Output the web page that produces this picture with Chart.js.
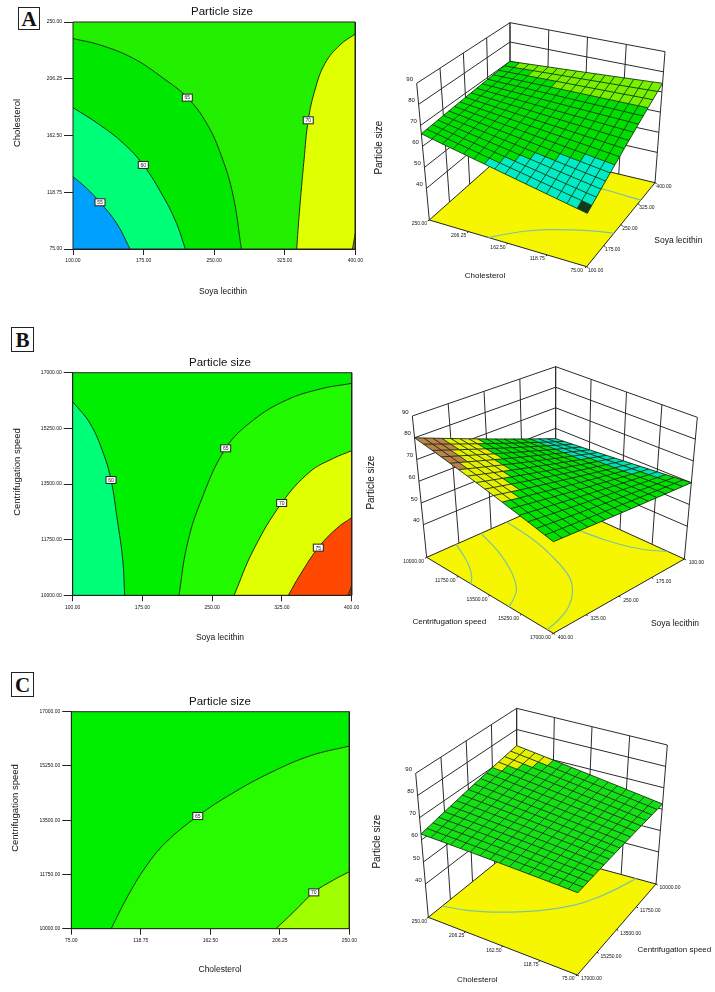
<!DOCTYPE html>
<html>
<head>
<meta charset="utf-8">
<title>Particle size</title>
<script src="https://cdn.jsdelivr.net/npm/chart.js@4"></script>
<style>
html, body { margin: 0; padding: 0; background: #fff; }
#page { position: relative; width: 715px; height: 992px; overflow: hidden; }
canvas { position: absolute; }
.letter { position: absolute; box-sizing: border-box; border: 1px solid #222; background: #fff; color: #111;
    font: bold 21px "Liberation Serif", serif; text-align: center; }
</style>
</head>
<body>
<div id="page">
    <div class="letter" style="left:18px;top:7px;width:22px;height:23px;line-height:22px">A</div>
    <div class="letter" style="left:11px;top:327px;width:23px;height:25px;line-height:24px">B</div>
    <div class="letter" style="left:11px;top:672px;width:23px;height:25px;line-height:24px">C</div>
    <canvas id="contourA" width="370" height="320" style="left:0;top:0"></canvas>
    <canvas id="contourB" width="370" height="330" style="left:0;top:320px"></canvas>
    <canvas id="contourC" width="360" height="332" style="left:0;top:660px"></canvas>
    <canvas id="surfaceA" width="345" height="310" style="left:370px;top:0"></canvas>
    <canvas id="surfaceB" width="355" height="310" style="left:360px;top:340px"></canvas>
    <canvas id="surfaceC" width="355" height="312" style="left:360px;top:680px"></canvas>
</div>
<script>
// tick values
const soyaTicks = [100, 175, 250, 325, 400]
const cholesterolTicks = [75, 118.75, 162.5, 206.25, 250]
const speedTicks = [10000, 11750, 13500, 15250, 17000]
const particleTicks = [40, 50, 60, 70, 80, 90]

// contour lines, [x, y] in axis units
// A: x = soya lecithin, y = cholesterol
const a55 = [[100, 130.8], [114.5, 121.8], [128.7, 111], [146.4, 94.8], [160.6, 75]]
const a60 = [[100, 184], [128.7, 170.6], [153.5, 156.5], [174.7, 139.8], [196, 115.3], [210, 94.8], [219.4, 75]]
const a65 = [[100, 237.2], [128.7, 232.3], [164, 222], [196, 206.6], [221.5, 191.7], [242, 171.9], [258, 146.2], [270.4, 115.3], [278.9, 75]]
const a70 = [[337.7, 75], [340.5, 102.5], [345.5, 143.6], [350, 174.2], [357.1, 197.6], [367.8, 218.1], [383.7, 232.3], [400, 240.8]]
const a75 = [[397, 75], [400, 87]]
// B: x = soya lecithin, y = centrifugation speed
const b60 = [[100, 16089], [118.6, 15408], [133, 14464], [141.2, 13626], [148, 12368], [153.8, 11111], [155.9, 10000]]
const b65 = [[214.3, 10000], [222.6, 11530], [236.9, 12892], [264.5, 14622], [294.3, 15512], [330, 16141], [366, 16487], [400, 16665]]
const b70 = [[273.5, 10000], [294.3, 11425], [324.7, 12903], [355.2, 13888], [380.3, 14307], [400, 14548]]
const b75 = [[331.9, 10000], [344.4, 10639], [364.1, 11499], [383.9, 12106], [400, 12442]]
const b80 = [[396, 10000], [400, 10300]]
// C: x = cholesterol, y = centrifugation speed
const c65 = [[100.1, 10000], [110, 11000], [121.9, 12000], [134.3, 12774], [154.6, 13634], [175.8, 14350], [200.6, 15040], [225.5, 15580], [250, 15892]]
const c70 = [[203.8, 10000], [215.1, 10548], [227.6, 11172], [240, 11570], [250, 11838]]

// surface height at the corners: left, front, back, right
const surfaceHeightsA = [66, 52, 70, 74.3]
const surfaceHeightsB = [80, 64, 55, 60]
const surfaceHeightsC = [62.6, 58, 72.4, 62.4]

const floorZ = 25
const topZ = 90
const meshCells = 16

const lineDark = "#1d321d"

const textPlugin = (items) => ({
    id: "panelText",
    afterDraw(chart) {
        const ctx = chart.ctx
        for (let item of items(chart)) {
            ctx.save()
            ctx.translate(item.x, item.y)
            if (item.rot) ctx.rotate(item.rot)
            ctx.font = `${item.size}px "Liberation Sans", Arial, sans-serif`
            ctx.fillStyle = "#111"
            ctx.textAlign = "center"
            ctx.textBaseline = "middle"
            ctx.fillText(item.text, 0, 0)
            ctx.restore()
        }
    },
})

const boxLabelsPlugin = (labels) => ({
    id: "boxLabels",
    afterDatasetsDraw(chart) {
        const ctx = chart.ctx
        for (let [x, y, text] of labels) {
            const px = chart.scales.x.getPixelForValue(x)
            const py = chart.scales.y.getPixelForValue(y)
            ctx.fillStyle = "#fff"
            ctx.strokeStyle = "#222"
            ctx.lineWidth = 1
            ctx.fillRect(px - 5, py - 3.5, 10, 7)
            ctx.strokeRect(px - 5, py - 3.5, 10, 7)
            ctx.fillStyle = "#222"
            ctx.font = '5px "Liberation Sans", Arial, sans-serif'
            ctx.textAlign = "center"
            ctx.textBaseline = "middle"
            ctx.fillText(text, px, py + 0.5)
        }
    },
})

const toPoints = (curve) => curve.map(([x, y]) => ({ x, y }))

const addContourChart = (cfg) => {
    const [xMin, xMax] = [cfg.xTicks[0], cfg.xTicks[cfg.xTicks.length - 1]]
    const [yMin, yMax] = [cfg.yTicks[0], cfg.yTicks[cfg.yTicks.length - 1]]
    const canvas = document.getElementById(cfg.id)

    const datasets = []
    datasets.push({
        data: [{ x: xMin, y: yMin }, { x: xMin, y: yMax }, { x: xMax, y: yMax }, { x: xMax, y: yMin }, { x: xMin, y: yMin }],
        showLine: true, borderColor: "#222", borderWidth: 1, pointRadius: 0, clip: false,
    })
    for (let layer of cfg.layers) {
        datasets.push({
            data: toPoints(layer.curve),
            showLine: true,
            fill: "start",
            backgroundColor: layer.color,
            borderColor: lineDark,
            borderWidth: 1,
            pointRadius: 0,
            tension: 0.4,
        })
    }
    datasets.push({
        data: [{ x: xMin, y: yMax }, { x: xMax, y: yMax }],
        showLine: true, fill: "start", backgroundColor: cfg.base, borderWidth: 0, pointRadius: 0,
    })
    datasets.forEach((d, i) => (d.order = i))

    const tickFont = { family: '"Liberation Sans", Arial, sans-serif', size: 5 }
    const axisW = cfg.plot[0]
    const axisH = 24

    return new Chart(canvas, {
        type: "scatter",
        data: { datasets },
        options: {
            responsive: false,
            animation: false,
            events: [],
            layout: {
                padding: {
                    left: 0,
                    top: cfg.plot[2],
                    right: canvas.width - cfg.plot[1],
                    bottom: canvas.height - cfg.plot[3] - axisH,
                },
            },
            plugins: { legend: { display: false }, tooltip: { enabled: false } },
            scales: {
                x: {
                    type: "linear",
                    min: xMin,
                    max: xMax,
                    afterFit: (s) => { s.height = axisH },
                    afterBuildTicks: (s) => { s.ticks = cfg.xTicks.map((value) => ({ value })) },
                    grid: { drawOnChartArea: false, tickLength: 6, tickColor: "#222" },
                    border: { color: "#222" },
                    ticks: { font: tickFont, color: "#111", padding: 3, maxRotation: 0, autoSkip: false, callback: (v) => v.toFixed(2) },
                },
                y: {
                    type: "linear",
                    min: yMin,
                    max: yMax,
                    afterFit: (s) => { s.width = axisW },
                    afterBuildTicks: (s) => { s.ticks = cfg.yTicks.map((value) => ({ value })) },
                    grid: { drawOnChartArea: false, tickLength: 9, tickColor: "#222" },
                    border: { color: "#222" },
                    ticks: { font: tickFont, color: "#111", padding: 2, autoSkip: false, callback: (v) => v.toFixed(2) },
                },
            },
        },
        plugins: [boxLabelsPlugin(cfg.labels), textPlugin(() => cfg.texts)],
    })
}

const mix = (a, b, t) => [a[0] + (b[0] - a[0]) * t, a[1] + (b[1] - a[1]) * t]

const bilinear = (q, u, v) => mix(mix(q.left, q.front, u), mix(q.back, q.right, u), v)

const curveAt = (curve, x) => {
    if (x < curve[0][0] || x > curve[curve.length - 1][0]) return -Infinity
    for (let k = 1; k < curve.length; k++) {
        if (x <= curve[k][0]) {
            const t = (x - curve[k - 1][0]) / (curve[k][0] - curve[k - 1][0])
            return curve[k - 1][1] + (curve[k][1] - curve[k - 1][1]) * t
        }
    }
    return -Infinity
}

const addSurfaceChart = (cfg) => {
    const canvas = document.getElementById(cfg.id)
    const [hl, hf, hb, hr] = cfg.heights
    const heightAt = (u, v) => {
        const near = hl + (hf - hl) * u
        const far = hb + (hr - hb) * u
        return near + (far - near) * v
    }
    const project = (u, v, z) => {
        const b = bilinear(cfg.floor, u, v)
        const t = bilinear(cfg.top, u, v)
        return mix(b, t, (z - floorZ) / (topZ - floorZ))
    }
    const pt = ([x, y]) => ({ x, y })
    const node = (i, j) => {
        const u = i / meshCells
        const v = j / meshCells
        return pt(project(u, v, heightAt(u, v)))
    }
    const line = (data, color, width) => ({
        data, showLine: true, borderColor: color, borderWidth: width, pointRadius: 0,
    })

    const datasets = []

    // back walls
    const wallU = [0, 0.25, 0.5, 0.75, 1]
    for (let w of wallU) {
        datasets.push(line([pt(project(0, w, floorZ)), pt(project(0, w, topZ))], "#2a2a2a", 1))
        datasets.push(line([pt(project(w, 1, floorZ)), pt(project(w, 1, topZ))], "#2a2a2a", 1))
    }
    for (let z of particleTicks) {
        datasets.push(line([pt(project(0, 0, z)), pt(project(0, 1, z)), pt(project(1, 1, z))], "#2a2a2a", 1))
    }

    // floor with the projected contours and ticks
    const corner = (u, v) => pt(project(u, v, floorZ))
    datasets.push({
        data: [corner(0, 0), corner(1, 0), corner(1, 1), corner(0, 1), corner(0, 0)],
        showLine: true, fill: "shape", backgroundColor: "#f6f600", borderColor: "#222", borderWidth: 1, pointRadius: 0,
    })
    for (let curve of cfg.floorCurves) {
        datasets.push({
            ...line(curve.map(([x, y]) => {
                const [u, v] = cfg.toUV(x, y)
                return pt(project(u, v, floorZ))
            }), "#7dc3a0", 1.2),
            tension: 0.4,
        })
    }
    for (let w of wallU) {
        const a = project(w, 0, floorZ)
        datasets.push(line([pt(a), { x: a[0] - 5, y: a[1] + 3 }], "#222", 1))
        const b = project(1, w, floorZ)
        datasets.push(line([pt(b), { x: b[0] + 5, y: b[1] + 3 }], "#222", 1))
    }

    // surface tiles, grouped in runs of one colour per row
    const tileColor = (i, j) => {
        if (cfg.darkFrontTile && i === meshCells - 1 && j === 0) return "#123a22"
        const [x, y] = cfg.toPlan((i + 0.5) / meshCells, (j + 0.5) / meshCells)
        let color = cfg.tile
        for (let band of cfg.bands) {
            if (y < curveAt(band.curve, x)) color = band.color
        }
        return color
    }
    for (let i = 0; i < meshCells; i++) {
        let start = 0
        for (let j = 1; j <= meshCells; j++) {
            if (j === meshCells || tileColor(i, j) !== tileColor(i, start)) {
                const data = []
                for (let k = start; k <= j; k++) data.push(node(i, k))
                for (let k = j; k >= start; k--) data.push(node(i + 1, k))
                data.push(node(i, start))
                datasets.push({
                    data, showLine: true, fill: "shape", backgroundColor: tileColor(i, start),
                    borderWidth: 0, pointRadius: 0,
                })
                start = j
            }
        }
    }

    // mesh
    for (let i = 0; i <= meshCells; i++) {
        const row = []
        const col = []
        for (let j = 0; j <= meshCells; j++) {
            row.push(node(i, j))
            col.push(node(j, i))
        }
        datasets.push(line(row, cfg.mesh, 0.9))
        datasets.push(line(col, cfg.mesh, 0.9))
    }
    datasets.forEach((d, i) => (d.order = -i))

    const items = (chart) => {
        const px = (p) => [chart.scales.x.getPixelForValue(p[0]), chart.scales.y.getPixelForValue(p[1])]
        const out = []
        particleTicks.forEach((z) => {
            const [x, y] = px(project(0, 0, z))
            out.push({ text: String(z), x: x - 7, y: y - 4, size: 6 })
        })
        cfg.edgeLeft.forEach((text, k) => {
            const [x, y] = px(project(k / 4, 0, floorZ))
            out.push({ text, x: x + cfg.offLeft[0], y: y + cfg.offLeft[1], size: 5 })
        })
        cfg.edgeRight.forEach((text, k) => {
            const [x, y] = px(project(1, k / 4, floorZ))
            out.push({ text, x: x + cfg.offRight[0], y: y + cfg.offRight[1], size: 5 })
        })
        for (let t of cfg.axisTitles) {
            const [x, y] = px([t.x, t.y])
            out.push({ text: t.text, x, y, size: t.size, rot: t.rot })
        }
        return out
    }

    return new Chart(canvas, {
        type: "scatter",
        data: { datasets },
        options: {
            responsive: false,
            animation: false,
            events: [],
            layout: { padding: 0 },
            plugins: { legend: { display: false }, tooltip: { enabled: false } },
            scales: {
                // view plane of the projected box, three units to the pixel
                x: { type: "linear", display: false, min: 0, max: canvas.width * 3 },
                y: { type: "linear", display: false, min: 0, max: canvas.height * 3, reverse: true },
            },
        },
        plugins: [textPlugin(items)],
    })
}

const fixed = (ticks) => ticks.map((t) => t.toFixed(2))
const upRight = -Math.PI / 2

addContourChart({
    id: "contourA",
    xTicks: soyaTicks,
    yTicks: cholesterolTicks,
    plot: [73, 355.3, 22, 249],
    base: "rgb(34,240,0)",
    layers: [
        { curve: a55, color: "rgb(0,160,255)" },
        { curve: a60, color: "rgb(0,255,120)" },
        { curve: a65, color: "rgb(0,232,0)" },
        { curve: a75, color: "rgb(200,140,60)" },
        { curve: a70, color: "rgb(224,255,0)" },
    ],
    labels: [[128.7, 111, "55"], [174.7, 139.8, "60"], [221.5, 191.7, "65"], [350, 174.2, "70"]],
    texts: [
        { text: "Particle size", x: 222, y: 12, size: 11.5 },
        { text: "Soya lecithin", x: 223, y: 292, size: 8.5 },
        { text: "Cholesterol", x: 17, y: 123, size: 9.5, rot: upRight },
    ],
})

addContourChart({
    id: "contourB",
    xTicks: soyaTicks,
    yTicks: speedTicks,
    plot: [72.7, 351.7, 52.7, 275.3],
    base: "rgb(0,238,0)",
    layers: [
        { curve: b60, color: "rgb(0,255,120)" },
        { curve: b80, color: "rgb(190,50,0)" },
        { curve: b75, color: "rgb(255,72,0)" },
        { curve: b70, color: "rgb(224,255,0)" },
        { curve: b65, color: "rgb(34,250,0)" },
    ],
    labels: [[141.2, 13626, "60"], [264.5, 14622, "65"], [324.7, 12903, "70"], [364.1, 11499, "75"]],
    texts: [
        { text: "Particle size", x: 220, y: 43, size: 11.5 },
        { text: "Soya lecithin", x: 220, y: 318, size: 8.5 },
        { text: "Centrifugation speed", x: 17.7, y: 152, size: 9.5, rot: upRight },
    ],
})

addContourChart({
    id: "contourC",
    xTicks: cholesterolTicks,
    yTicks: speedTicks,
    plot: [71.3, 352.7, 51.7, 268.7],
    base: "rgb(0,238,0)",
    layers: [
        { curve: c70, color: "rgb(160,255,0)" },
        { curve: c65, color: "rgb(40,250,0)" },
    ],
    labels: [[154.6, 13634, "65"], [227.6, 11172, "70"]],
    texts: [
        { text: "Particle size", x: 220, y: 42, size: 11.5 },
        { text: "Cholesterol", x: 220, y: 310, size: 8.5 },
        { text: "Centrifugation speed", x: 15.7, y: 148, size: 9.5, rot: upRight },
    ],
})

addSurfaceChart({
    id: "surfaceA",
    heights: surfaceHeightsA,
    floor: { left: [178, 660], front: [650, 800], back: [420, 445], right: [855, 548] },
    top: { left: [140, 250], front: [655, 415], back: [420, 68], right: [885, 155] },
    toUV: (x, y) => [(250 - y) / 175, (x - 100) / 300],
    toPlan: (u, v) => [100 + 300 * v, 250 - 175 * u],
    floorCurves: [a60, a70],
    bands: [
        { curve: a70, color: "rgb(120,240,0)" },
        { curve: a60, color: "rgb(0,235,200)" },
    ],
    tile: "rgb(0,222,0)",
    mesh: "#0f3c0f",
    darkFrontTile: true,
    edgeLeft: fixed([...cholesterolTicks].reverse()),
    edgeRight: fixed(soyaTicks),
    offLeft: [-10, 4],
    offRight: [9, 4],
    axisTitles: [
        { text: "Particle size", x: 28, y: 443, size: 10, rot: upRight },
        { text: "Cholesterol", x: 345, y: 828, size: 8 },
        { text: "Soya lecithin", x: 925, y: 723, size: 8.5 },
    ],
})

addSurfaceChart({
    id: "surfaceB",
    heights: surfaceHeightsB,
    floor: { left: [200, 652], front: [580, 880], back: [587, 481], right: [973, 657] },
    top: { left: [157, 228], front: [580, 422], back: [587, 80], right: [1012, 232] },
    toUV: (x, y) => [(y - 10000) / 7000, (400 - x) / 300],
    toPlan: (u, v) => [400 - 300 * v, 10000 + 7000 * u],
    floorCurves: [b60, b65, b70, b75],
    bands: [
        { curve: b60, color: "rgb(0,225,180)" },
        { curve: b70, color: "rgb(230,240,0)" },
        { curve: b75, color: "rgb(190,130,70)" },
    ],
    tile: "rgb(0,225,0)",
    mesh: "#142a14",
    edgeLeft: fixed(speedTicks),
    edgeRight: fixed([...soyaTicks].reverse()),
    offLeft: [-13, 4],
    offRight: [12, 4],
    axisTitles: [
        { text: "Particle size", x: 33, y: 428, size: 10, rot: upRight },
        { text: "Centrifugation speed", x: 268, y: 845, size: 8 },
        { text: "Soya lecithin", x: 945, y: 850, size: 8.5 },
    ],
})

addSurfaceChart({
    id: "surfaceC",
    heights: surfaceHeightsC,
    floor: { left: [205, 712], front: [652, 885], back: [470, 498], right: [888, 612] },
    top: { left: [167, 280], front: [655, 399], back: [470, 85], right: [922, 195] },
    toUV: (x, y) => [(250 - x) / 175, (17000 - y) / 7000],
    toPlan: (u, v) => [250 - 175 * u, 17000 - 7000 * v],
    floorCurves: [c65],
    bands: [{ curve: c70, color: "rgb(230,240,0)" }],
    tile: "rgb(20,225,20)",
    mesh: "#143414",
    edgeLeft: fixed([...cholesterolTicks].reverse()),
    edgeRight: fixed([...speedTicks].reverse()),
    offLeft: [-9, 4],
    offRight: [14, 4],
    axisTitles: [
        { text: "Particle size", x: 52, y: 485, size: 10, rot: upRight },
        { text: "Cholesterol", x: 352, y: 900, size: 8 },
        { text: "Centrifugation speed", x: 943, y: 808, size: 8 },
    ],
})
</script>
</body>
</html>
